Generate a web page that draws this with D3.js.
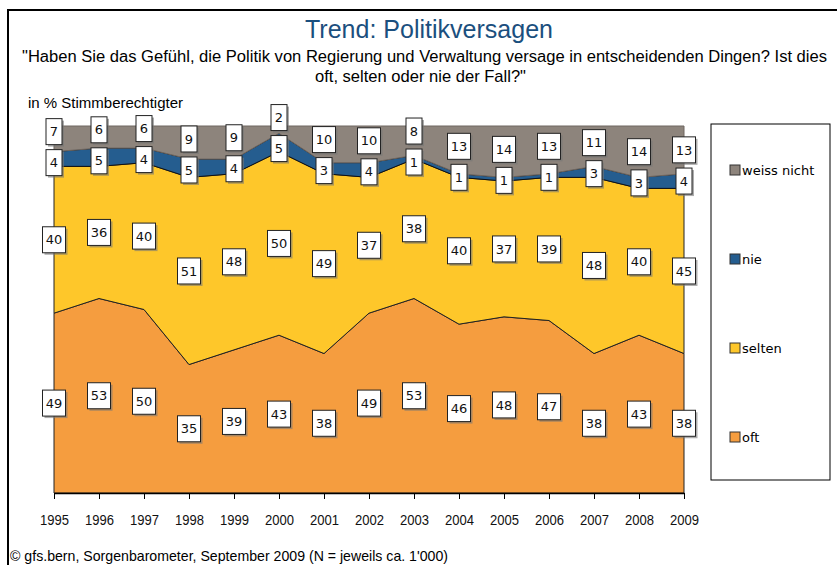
<!DOCTYPE html>
<html>
<head>
<meta charset="utf-8">
<script src="https://cdn.jsdelivr.net/npm/d3@7"></script>
<style>
  body { margin: 0; background: #fff; }
  svg text { font-family: "Liberation Sans Narrow", "Arial Narrow", "Liberation Sans", sans-serif; }
  .num { font-family: "DejaVu Sans", Verdana, sans-serif; }
</style>
</head>
<body>
<svg id="chart" width="837" height="565"></svg>
<script>
var years = [1995, 1996, 1997, 1998, 1999, 2000, 2001, 2002, 2003, 2004, 2005, 2006, 2007, 2008, 2009];
var oft = [49, 53, 50, 35, 39, 43, 38, 49, 53, 46, 48, 47, 38, 43, 38];
var selten = [40, 36, 40, 51, 48, 50, 49, 37, 38, 40, 37, 39, 48, 40, 45];
var nie = [4, 5, 4, 5, 4, 5, 3, 4, 1, 1, 1, 1, 3, 3, 4];
var weissNicht = [7, 6, 6, 9, 9, 2, 10, 10, 8, 13, 14, 13, 11, 14, 13];

var seriesNames = ["oft", "selten", "nie", "weiss nicht"];
var colors = {"oft": "#f59d3f", "selten": "#fec72a", "nie": "#255d8f", "weiss nicht": "#8d847c"};
var strokes = {"oft": "#222", "selten": "#222", "nie": "#111", "weiss nicht": "#6e6660"};

var svg = d3.select("#chart");

// outer frame
svg.append("path")
    .attr("d", "M8,565 V10 H837")
    .attr("fill", "none")
    .attr("stroke", "#000")
    .attr("stroke-width", 2);

svg.append("text")
    .attr("x", 305).attr("y", 38)
    .attr("fill", "#1b4f7e")
    .attr("textLength", 248)
    .attr("lengthAdjust", "spacingAndGlyphs")
    .style("font-size", "26px")
    .text("Trend: Politikversagen");

svg.append("text")
    .attr("x", 22).attr("y", 62)
    .attr("textLength", 805)
    .attr("lengthAdjust", "spacingAndGlyphs")
    .style("font-size", "16px")
    .text("\"Haben Sie das Gefühl, die Politik von Regierung und Verwaltung versage in entscheidenden Dingen? Ist dies");
svg.append("text")
    .attr("x", 315).attr("y", 82)
    .attr("textLength", 211)
    .attr("lengthAdjust", "spacingAndGlyphs")
    .style("font-size", "17px")
    .text("oft, selten oder nie der Fall?\"");

svg.append("text")
    .attr("x", 28).attr("y", 108)
    .attr("textLength", 155)
    .attr("lengthAdjust", "spacingAndGlyphs")
    .style("font-size", "15px")
    .text("in % Stimmberechtigter");

var x = d3.scalePoint().domain(years).range([54, 684]);
var y = d3.scaleLinear().domain([0, 100]).range([493, 126]);

var table = years.map(function(yr, i) {
  return {year: yr, "oft": oft[i], "selten": selten[i], "nie": nie[i], "weiss nicht": weissNicht[i]};
});

var stack = d3.stack().keys(seriesNames);
var layers = stack(table);

var area = d3.area()
    .x(function(d) { return x(d.data.year); })
    .y0(function(d) { return y(d[0]); })
    .y1(function(d) { return y(d[1]); });

svg.append("g").selectAll("path")
  .data(layers)
  .enter().append("path")
    .attr("fill", function(d) { return colors[d.key]; })
    .attr("stroke", function(d) { return strokes[d.key]; })
    .attr("stroke-width", 1)
    .attr("d", area);

// x axis
var xAxis = svg.append("g")
    .attr("transform", "translate(0,493)")
    .call(d3.axisBottom(x).tickSize(6).tickSizeOuter(0));
xAxis.select(".domain").attr("stroke", "#000").attr("stroke-width", 1.5);
xAxis.selectAll("line").attr("stroke", "#000");
xAxis.selectAll("text")
    .attr("y", 22)
    .attr("fill", "#111")
    .attr("textLength", 29)
    .attr("lengthAdjust", "spacingAndGlyphs")
    .style("font-size", "14px")
    .style("font-weight", "normal")
    .style("font-family", "\"Liberation Sans Narrow\", \"Liberation Sans\", sans-serif");

// label positions
var labels = [];
years.forEach(function(yr, i) {
  var col = layers.map(function(L) {
    var d = L[i];
    return {key: L.key, value: d.data[L.key], x: x(yr), cy: y((d[0] + d[1]) / 2)};
  });
  // push overlapping labels apart (bottom to top)
  var gap = 31;
  for (var k = 1; k < col.length; k++) {
    var lower = col[k - 1], upper = col[k];
    var deficit = gap - (lower.cy - upper.cy);
    if (deficit > 0) {
      upper.cy -= deficit * 2 / 3;
      lower.cy += deficit / 3;
    }
  }
  labels = labels.concat(col);
});

var lg = svg.append("g").selectAll("g")
  .data(labels)
  .enter().append("g")
    .attr("transform", function(d) { return "translate(" + d.x + "," + d.cy + ")"; });

function boxW(d) { return String(d.value).length > 1 ? 23 : 16; }

lg.append("rect")
    .attr("x", function(d) { return -boxW(d) / 2 + 2; })
    .attr("y", -13 + 2)
    .attr("width", boxW)
    .attr("height", 26)
    .attr("fill", "#777")
    .attr("opacity", 0.6);
lg.append("rect")
    .attr("x", function(d) { return -boxW(d) / 2; })
    .attr("y", -13)
    .attr("width", boxW)
    .attr("height", 26)
    .attr("fill", "#fff")
    .attr("stroke", "#222")
    .attr("stroke-width", 1);
lg.append("text")
    .attr("class", "num")
    .attr("text-anchor", "middle")
    .attr("dy", "0.36em")
    .style("font-size", "13px")
    .attr("fill", "#111")
    .text(function(d) { return d.value; });

// legend
svg.append("rect")
    .attr("x", 711).attr("y", 124)
    .attr("width", 119).attr("height", 356)
    .attr("fill", "#fff")
    .attr("stroke", "#000")
    .attr("stroke-width", 1);

var legendOrder = ["weiss nicht", "nie", "selten", "oft"];
var legY = d3.scalePoint().domain(legendOrder).range([170, 437]);
var leg = svg.append("g").selectAll("g")
  .data(legendOrder)
  .enter().append("g")
    .attr("transform", function(d) { return "translate(730," + legY(d) + ")"; });
leg.append("rect")
    .attr("x", 0).attr("y", -5)
    .attr("width", 10).attr("height", 10)
    .attr("fill", function(d) { return colors[d]; })
    .attr("stroke", "#333");
leg.append("text")
    .attr("x", 12).attr("dy", "0.35em")
    .style("font-family", "\"DejaVu Sans\", Verdana, sans-serif")
    .style("font-size", "13px")
    .text(function(d) { return d; });

svg.append("text")
    .attr("x", 10).attr("y", 561)
    .attr("textLength", 438)
    .attr("lengthAdjust", "spacingAndGlyphs")
    .style("font-size", "15px")
    .text("© gfs.bern, Sorgenbarometer, September 2009 (N = jeweils ca. 1'000)");
</script>
</body>
</html>
